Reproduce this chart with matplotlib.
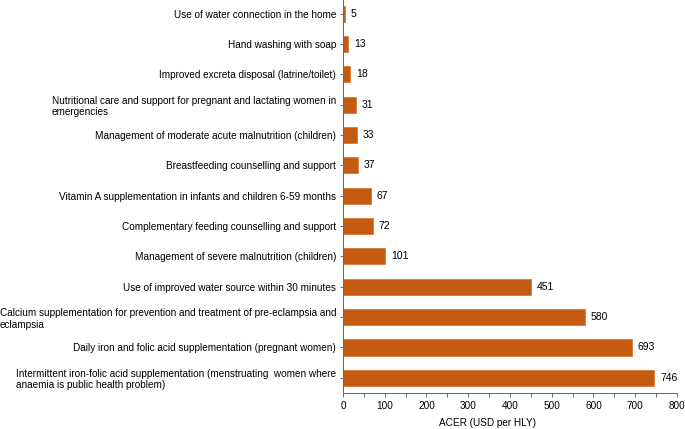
import matplotlib
matplotlib.use("Agg")
import matplotlib.pyplot as plt
from matplotlib.ticker import MultipleLocator

plt.rcParams['font.family'] = ['Liberation Sans', 'DejaVu Sans']

categories = [
    "Use of water connection in the home",
    "Hand washing with soap",
    "Improved excreta disposal (latrine/toilet)",
    "Nutritional care and support for pregnant and lactating women in\nemergencies",
    "Management of moderate acute malnutrition (children)",
    "Breastfeeding counselling and support",
    "Vitamin A supplementation in infants and children 6-59 months",
    "Complementary feeding counselling and support",
    "Management of severe malnutrition (children)",
    "Use of improved water source within 30 minutes",
    "Calcium supplementation for prevention and treatment of pre-eclampsia and\neclampsia",
    "Daily iron and folic acid supplementation (pregnant women)",
    "Intermittent iron-folic acid supplementation (menstruating  women where\nanaemia is public health problem)",
]
values = [5, 13, 18, 31, 33, 37, 67, 72, 101, 451, 580, 693, 746]
xticks = [0, 100, 200, 300, 400, 500, 600, 700, 800]

fig = plt.figure(figsize=(6.85, 4.29), dpi=100)
ax = fig.add_axes([0.5007, 0.0839, 0.4876, 0.9161])

pos = list(range(len(categories)))
ax.barh(pos, values, height=0.53, color="#C55A11", edgecolor="#D9793A", linewidth=0.6)
ax.set_yticks(pos)
ax.set_yticklabels(categories, fontsize=7.2, multialignment='left')
ax.set_ylim(len(categories) - 0.5, -0.45)
ax.set_xlim(0, 800)
ax.set_xticks(xticks)
ax.set_xticklabels([str(t) for t in xticks], fontsize=7.2)
ax.xaxis.set_minor_locator(MultipleLocator(50))
ax.tick_params(axis='x', which='both', direction='out', length=3, color='#555555', width=0.6, pad=3)
ax.tick_params(axis='y', direction='out', length=2, color='#555555', width=0.6, pad=3)

for p, v in zip(pos, values):
    ax.annotate(str(v), (v, p), xytext=(4, 0), textcoords='offset points',
                va='center', ha='left', fontsize=7.5)

for s in ['top', 'right']:
    ax.spines[s].set_visible(False)
for s in ['left', 'bottom']:
    ax.spines[s].set_color('#666666')
    ax.spines[s].set_linewidth(0.7)

ax.set_xlabel("ACER (USD per HLY)", fontsize=7.2)
ax.xaxis.set_label_coords(0.433, -0.076)
ax.xaxis.label.set_va('center')

fig.savefig("out.png", dpi=100)
